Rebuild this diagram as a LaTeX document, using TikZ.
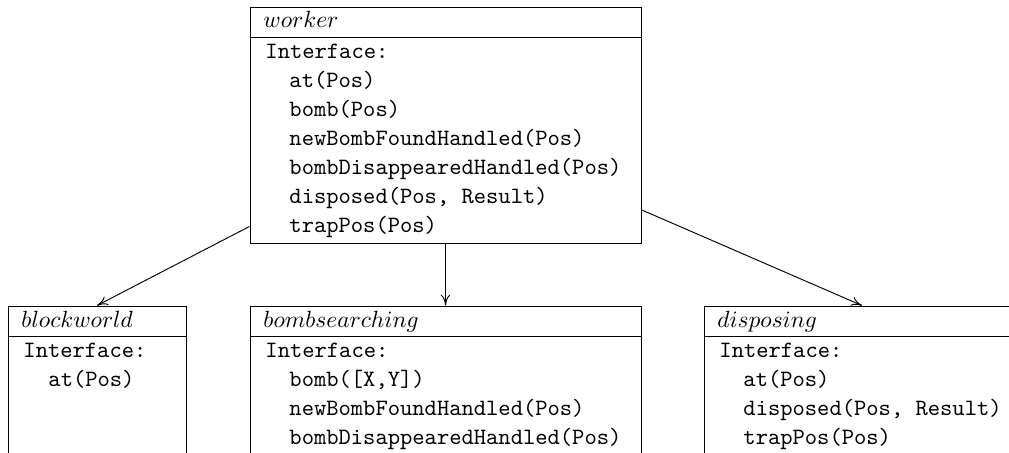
\documentclass[tikz,border=0pt]{standalone}
\usetikzlibrary{arrows.meta}
\begin{document}
\begin{tikzpicture}[x=0.427pt,y=-0.427pt,
  box/.style={draw, line width=0.4pt, inner sep=0pt, minimum height=180*0.427pt},
  sep/.style={line width=0.4pt},
  tt/.style={anchor=base west, inner sep=0pt, font=\fontsize{10}{12}\selectfont\ttfamily},
  ttl/.style={anchor=base west, inner sep=0pt, font=\fontsize{10.4}{12.4}\selectfont},
  conn/.style={line width=0.4pt, -{To[length=4.6pt,width=4pt]}}]
\useasboundingbox (0,0) rectangle (1009,453);
\clip (0,0) rectangle (1009,453);
% worker
\node[box, minimum width=391*0.427pt, minimum height=236*0.427pt] (worker) at (445.5,125) {};
\draw[sep] (worker.west |- 0,37) -- (worker.east |- 0,37);
\node[ttl] (wt) at (263,27) {$worker$};
\node[tt] (w1) at (265,58) {Interface:};
\node[tt] (w2) at (289,87) {at(Pos)};
\node[tt] (w3) at (289,116) {bomb(Pos)};
\node[tt] (w4) at (289,145) {newBombFoundHandled(Pos)};
\node[tt] (w5) at (289,174) {bombDisappearedHandled(Pos)};
\node[tt] (w6) at (289,203) {disposed(Pos, Result)};
\node[tt] (w7) at (289,232) {trapPos(Pos)};
% blockworld
\node[box, minimum width=178*0.427pt] (blockworld) at (97,396) {};
\draw[sep] (blockworld.west |- 0,336) -- (blockworld.east |- 0,336);
\node[ttl] (bt) at (21,327) {$blockworld$};
\node[tt] (b1) at (23,357) {Interface:};
\node[tt] (b2) at (48,386) {at(Pos)};
% bombsearching
\node[box, minimum width=391*0.427pt] (bombsearching) at (445.5,396) {};
\draw[sep] (bombsearching.west |- 0,336) -- (bombsearching.east |- 0,336);
\node[ttl] (st) at (263,327) {$bombsearching$};
\node[tt] (s1) at (265,357) {Interface:};
\node[tt] (s2) at (289,386) {bomb([X,Y])};
\node[tt] (s3) at (289,415) {newBombFoundHandled(Pos)};
\node[tt] (s4) at (289,444) {bombDisappearedHandled(Pos)};
% disposing
\node[box, minimum width=316*0.427pt] (disposing) at (862,396) {};
\draw[sep] (disposing.west |- 0,336) -- (disposing.east |- 0,336);
\node[ttl] (dt) at (717,327) {$disposing$};
\node[tt] (d1) at (719,357) {Interface:};
\node[tt] (d2) at (743,386) {at(Pos)};
\node[tt] (d3) at (743,415) {disposed(Pos, Result)};
\node[tt] (d4) at (743,444) {trapPos(Pos)};
% connectors
\draw[conn] (worker) -- (blockworld.north);
\draw[conn] (worker.south) -- (bombsearching.north);
\draw[conn] (worker) -- (disposing.north);
\end{tikzpicture}
\end{document}
